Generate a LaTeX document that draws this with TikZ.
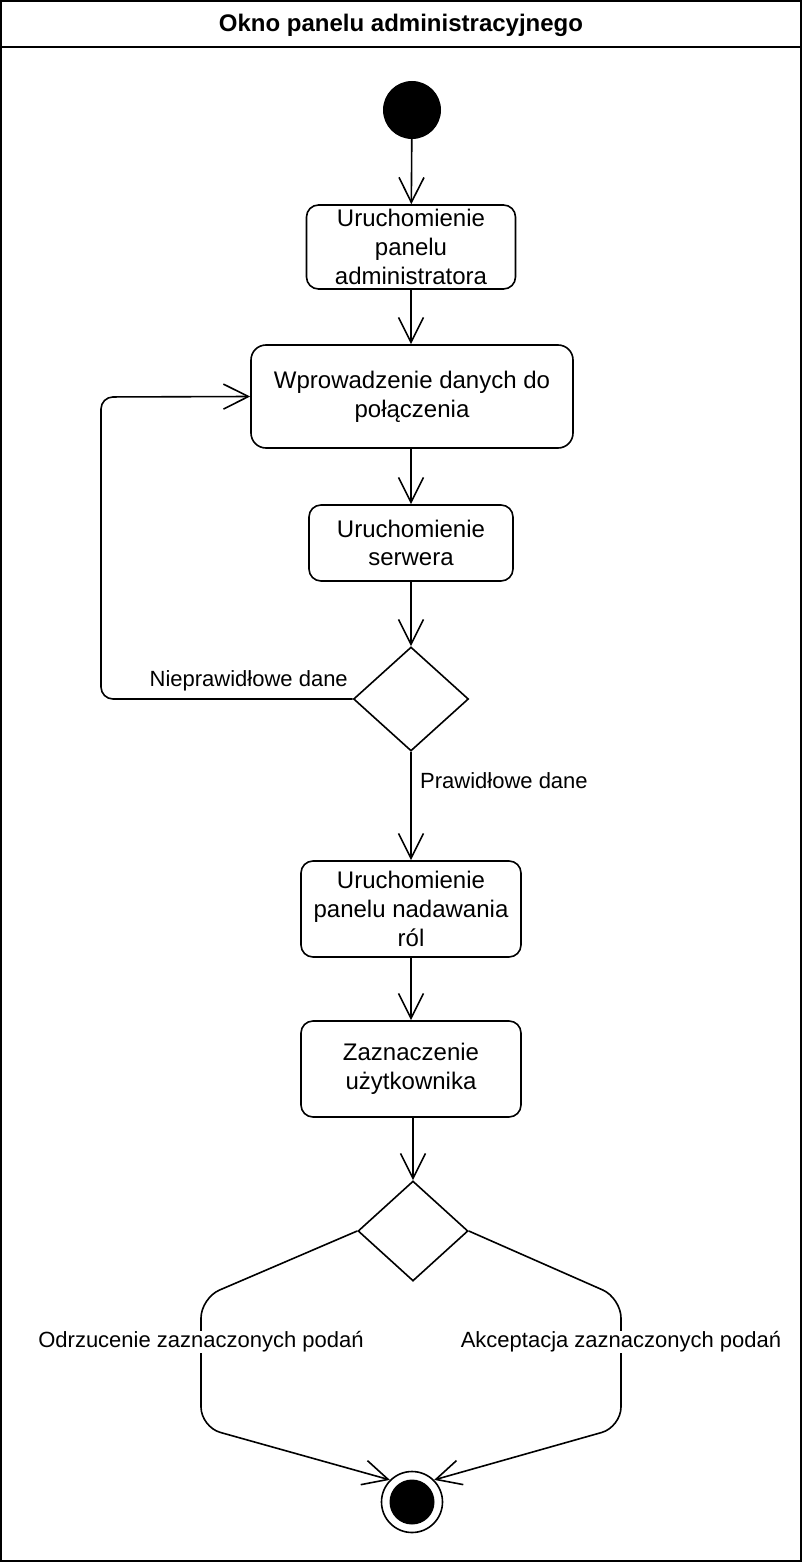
\documentclass[tikz,border=0pt]{standalone}
\usepackage{fontspec}
\setmainfont{Liberation Sans}
\usetikzlibrary{arrows.meta,shapes.geometric}
\tikzset{
	akcja/.style={draw, line width=1.6pt, rounded corners=12pt, align=center, inner sep=0pt, font=\fontsize{24}{28.8}\selectfont},
	decyzja/.style={draw, diamond, line width=1.6pt, inner sep=0pt, minimum width=#1},
	przejscie/.style={line width=1.6pt, -{Straight Barb[length=25pt,width=25pt]}},
	opis/.style={font=\fontsize{22}{26.4}\selectfont, inner sep=1pt},
}

\begin{document}
\begin{tikzpicture}[x=1pt, y=-1pt]
			%%%%% START %%%%%
			\useasboundingbox (0, 0) rectangle (802, 1562);
			
			\draw[line width=2pt] (1, 1) rectangle (801, 1561);
			\draw[line width=2pt] (1, 47) -- (801, 47);
			\node[font=\fontsize{24}{28.8}\selectfont\bfseries] (tytul) at (401, 25) {Okno panelu administracyjnego};
			
			\node[circle, fill=black, minimum size=58pt, inner sep=0pt] (start) at (412, 110) {};
			
			\node[akcja, minimum width=209pt, minimum height=84pt] (panel) at (411, 247) {Uruchomienie\\panelu\\administratora};
			\node[akcja, rounded corners=15pt, minimum width=322pt, minimum height=103pt] (dane) at (412, 396.5) {Wprowadzenie danych do\\połączenia};
			\node[akcja, minimum width=204pt, minimum height=76pt] (serwer) at (411, 543) {Uruchomienie\\serwera};
			\node[decyzja=115pt, minimum height=104pt] (test) at (411, 699) {};
			\node[akcja, minimum width=220pt, minimum height=96pt] (role) at (411, 909) {Uruchomienie\\panelu nadawania\\ról};
			\node[akcja, minimum width=220pt, minimum height=96pt] (wybor) at (411, 1069) {Zaznaczenie\\użytkownika};
			\node[decyzja=110pt, minimum height=100pt] (decyzja) at (413, 1231) {};
			
			\node[circle, draw, line width=1.6pt, minimum size=61pt, inner sep=0pt] (koniec) at (412, 1502) {};
			\fill (koniec.center) circle (22.5);
			
			\draw[przejscie] (start) -- (panel);
			\draw[przejscie] (panel) -- (panel |- dane.north);
			\draw[przejscie] (dane.south -| serwer) -- (serwer);
			\draw[przejscie] (serwer) -- (test);
			\draw[przejscie] (test) -- (role);
			\draw[przejscie] (role) -- (wybor);
			\draw[przejscie] (wybor.south -| decyzja) -- (decyzja);
			
			\coordinate (petla) at (101, 397);
			\draw[przejscie, rounded corners=12pt] (test.west) -| (petla) -- (dane.west);
			\node[opis, anchor=east] (zle) at (349, 681) {Nieprawidłowe dane};
			\node[opis, anchor=west] (dobre) at (419, 781) {Prawidłowe dane};
			
			\draw[przejscie, rounded corners=20pt] (decyzja.west) -- (201, 1298) -- (201, 1427) -- (koniec.135);
			\draw[przejscie, rounded corners=20pt] (decyzja.east) -- (621, 1298) -- (621, 1427) -- (koniec.45);
			\node[opis, fill=white] (odrzuc) at (201, 1342) {Odrzucenie zaznaczonych podań};
			\node[opis, fill=white] (akcept) at (621, 1342) {Akceptacja zaznaczonych podań};
			
			%%%%% END %%%%%
		\end{tikzpicture}
\end{document}
